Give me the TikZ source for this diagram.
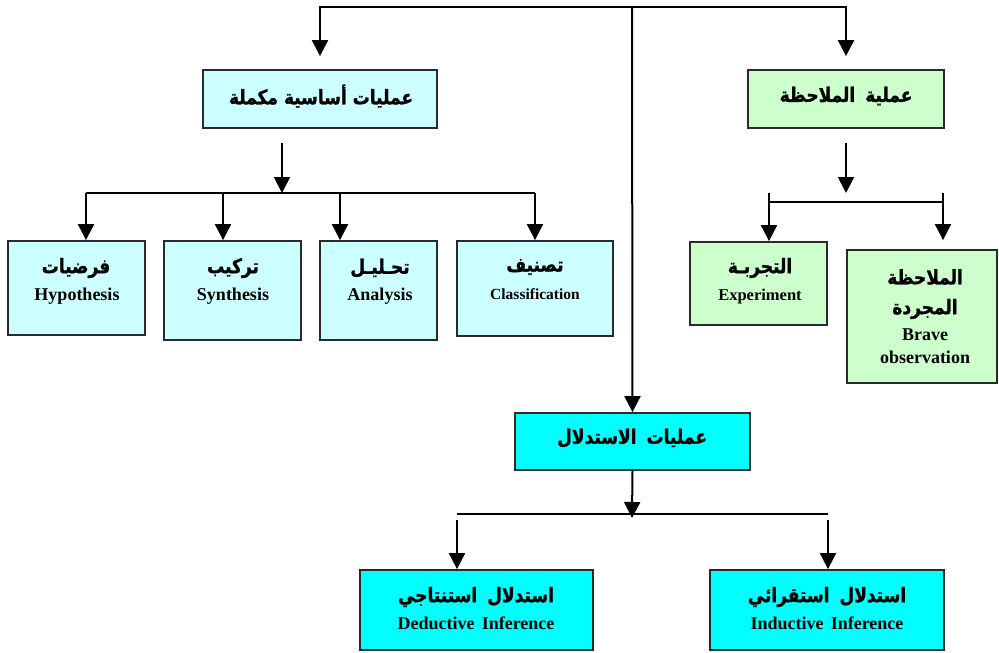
\documentclass[tikz,border=0pt]{standalone}
\usepackage{fontspec}
\setmainfont{Liberation Serif}
\newfontfamily\arabicfont[Script=Arabic,FakeStretch=0.85,FakeBold=1.2]{DejaVu Sans}
\TeXXeTstate=1
\usetikzlibrary{arrows.meta}
\definecolor{lc}{HTML}{CCFFFF}
\definecolor{lg}{HTML}{CCFFCC}
\definecolor{cy}{HTML}{00FFFF}
\definecolor{edge}{HTML}{2A2A2A}
\newcommand{\ar}[1]{{\arabicfont\bfseries\fontsize{20}{24}\selectfont\beginR #1\endR}}
\newcommand{\en}[1]{{\bfseries\fontsize{18}{21}\selectfont #1}}
\begin{document}
\begin{tikzpicture}[x=1pt,y=-1pt,
  box/.style={draw=edge,line width=1.8pt,inner sep=0pt},
  txt/.style={inner sep=0pt,align=center},
  ln/.style={line width=2pt,black},
  arr/.style={ln,-{Triangle[width=16pt,length=16pt]}}]
\useasboundingbox (0,0) rectangle (999,653);
% boxes
\node[box,fill=lc,minimum width=234pt,minimum height=58pt] (basic) at (320,99) {};
\node[box,fill=lg,minimum width=196pt,minimum height=58pt] (obs) at (846,99) {};
\node[box,fill=lc,minimum width=137pt,minimum height=94pt] (hyp) at (76.5,288) {};
\node[box,fill=lc,minimum width=137pt,minimum height=99pt] (syn) at (232.5,290.5) {};
\node[box,fill=lc,minimum width=117pt,minimum height=99pt] (ana) at (378.5,290.5) {};
\node[box,fill=lc,minimum width=156pt,minimum height=95pt] (cls) at (535,288.5) {};
\node[box,fill=lg,minimum width=137pt,minimum height=83pt] (exp) at (758.5,283.5) {};
\node[box,fill=lg,minimum width=150pt,minimum height=133pt] (brave) at (922,316.5) {};
\node[box,fill=cy,minimum width=235pt,minimum height=57pt] (inf) at (632.5,441.5) {};
\node[box,fill=cy,minimum width=233pt,minimum height=80pt] (ded) at (476.5,610) {};
\node[box,fill=cy,minimum width=234pt,minimum height=80pt] (ind) at (827,610) {};
% texts
\node[txt] (basict) at (321,96) {\ar{عمليات أساسية مكملة}};
\node[txt] (obst) at (846,96) {\ar{عملية\hspace{0.5em}الملاحظة}};
\node[txt] (hypa) at (76,268) {\ar{فرضيات}};
\node[txt] (hype) at (77,296) {\en{Hypothesis}};
\node[txt] (syna) at (233,268) {\ar{تركيب}};
\node[txt] (syne) at (233,296) {\en{Synthesis}};
\node[txt] (anaa) at (380,268) {\ar{تحـليـل}};
\node[txt] (anae) at (380,296) {\en{Analysis}};
\node[txt] (clsa) at (535,267) {\ar{تصنيف}};
\node[txt] (clse) at (535,294) {{\bfseries\fontsize{15.5}{18}\selectfont Classification}};
\node[txt] (expa) at (760,268) {\ar{التجربـة}};
\node[txt] (expe) at (760,297) {{\bfseries\fontsize{16.5}{19}\selectfont Experiment}};
\node[txt] (bravea) at (925,277) {\ar{الملاحظة}};
\node[txt] (braveb) at (925,309) {\ar{المجردة}};
\node[txt] (bravec) at (925,335) {\en{Brave}};
\node[txt] (braved) at (925,357) {\en{observation}};
\node[txt] (inft) at (632,438) {\ar{عمليات\hspace{0.5em}الاستدلال}};
\node[txt] (deda) at (476,597) {\ar{استدلال\hspace{0.5em}استنتاجي}};
\node[txt] (dede) at (476,623) {\en{Deductive\hspace{0.4em}Inference}};
\node[txt] (inda) at (827,597) {\ar{استدلال\hspace{0.5em}استقرائي}};
\node[txt] (inde) at (827,623) {\en{Inductive\hspace{0.4em}Inference}};
% top distribution
\coordinate (top) at (632,7);
\draw[arr] (top) -- (inf.north);
\draw[arr,shorten >=13pt] (top) -| (basic.north);
\draw[arr,shorten >=13pt] (top) -| (obs.north);
% basic branch
\coordinate (ba) at (282,143);
\coordinate (bb) at (282,193);
\coordinate (hl) at (86,193);
\coordinate (hr) at (535,193);
\coordinate (hs) at (223,193);
\coordinate (ha) at (340,193);
\draw[arr] (ba) -- (bb);
\draw[ln] (hl) -- (hr);
\draw[arr] (hl) -- (hl |- hyp.north);
\draw[arr] (hs) -- (hs |- syn.north);
\draw[arr] (ha) -- (ha |- ana.north);
\draw[arr] (hr) -- (hr |- cls.north);
% observation branch
\coordinate (oa) at (846,143);
\coordinate (ob) at (846,193);
\coordinate (ol) at (769,193);
\coordinate (or) at (943,193);
\coordinate (oml) at (769,202);
\coordinate (omr) at (943,202);
\draw[arr] (oa) -- (ob);
\draw[ln] (oml) -- (omr);
\draw[arr] (ol) -- (ol |- exp.north);
\draw[arr,shorten >=9pt] (or) -- (or |- brave.north);
% inference branch
\coordinate (ia) at (632,518);
\coordinate (il) at (457,514);
\coordinate (ir) at (828,514);
\coordinate (ild) at (457,520);
\coordinate (ird) at (828,520);
\draw[ln] (il) -- (ir);
\draw[arr] (inf.south) -- (ia);
\draw[arr] (ild) -- (ild |- ded.north);
\draw[arr] (ird) -- (ird |- ind.north);
\end{tikzpicture}
\end{document}
